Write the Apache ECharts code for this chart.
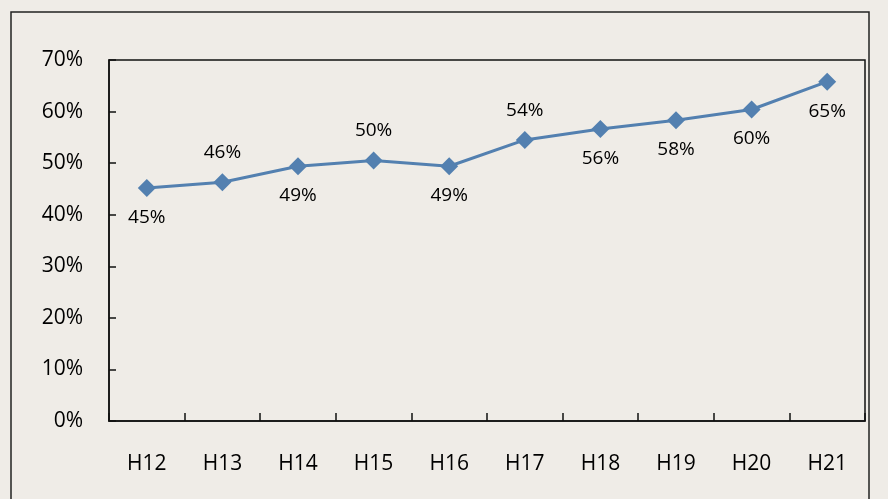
<!DOCTYPE html>
<html>
<head>
<meta charset="utf-8">
<script src="https://cdn.jsdelivr.net/npm/echarts@6/dist/echarts.min.js"></script>
<style>
html,body{margin:0;padding:0;background:#efece7;}
#main{width:888px;height:499px;}
</style>
</head>
<body>
<div id="main"></div>
<script>
// categories and values
var years = ['H12','H13','H14','H15','H16','H17','H18','H19','H20','H21'];
var rates = [45.2, 46.3, 49.4, 50.5, 49.4, 54.5, 56.6, 58.3, 60.4, 65.8];
var labelText = ['45%','46%','49%','50%','49%','54%','56%','58%','60%','65%'];
var labelPos = ['bottom','top','bottom','top','bottom','top','bottom','bottom','bottom','bottom'];

var font = '"Open Sans", "Noto Sans", sans-serif';

var points = [];
for (var i = 0; i < rates.length; i++) {
    points.push({
        value: rates[i],
        label: { position: labelPos[i], formatter: labelText[i] }
    });
}

var chart = echarts.init(document.getElementById('main'));
var option = {
    backgroundColor: '#efece7',
    animation: false,
    graphic: [{
        type: 'rect',
        shape: { x: 11, y: 12, width: 858, height: 500 },
        style: { fill: 'none', stroke: '#222', lineWidth: 1.5 },
        silent: true
    }],
    grid: {
        left: 109, right: 23, top: 60, bottom: 78,
        show: true, borderColor: '#111', borderWidth: 1.5, backgroundColor: 'transparent'
    },
    xAxis: {
        type: 'category',
        data: years,
        boundaryGap: true,
        axisLine: { show: true, lineStyle: { color: '#111', width: 1.5 } },
        axisTick: { show: true, interval: 0, inside: true, length: 8, lineStyle: { color: '#111', width: 1.5 } },
        axisLabel: { margin: 33, fontSize: 21, color: '#000', fontFamily: font }
    },
    yAxis: {
        type: 'value',
        min: 0, max: 70, interval: 10,
        splitLine: { show: false },
        axisLine: { show: true, lineStyle: { color: '#111', width: 1.5 } },
        axisTick: { show: true, inside: true, length: 7, lineStyle: { color: '#111', width: 1.5 } },
        axisLabel: {
            margin: 26, fontSize: 21, color: '#000', fontFamily: font,
            formatter: '{value}%'
        }
    },
    series: [{
        type: 'line',
        data: points,
        symbol: 'diamond',
        symbolSize: 18,
        lineStyle: { color: '#5380b0', width: 3 },
        itemStyle: { color: '#5380b0' },
        label: {
            show: true, distance: 11, fontSize: 19, color: '#000', fontFamily: font
        }
    }]
};
chart.setOption(option);
</script>
</body>
</html>
